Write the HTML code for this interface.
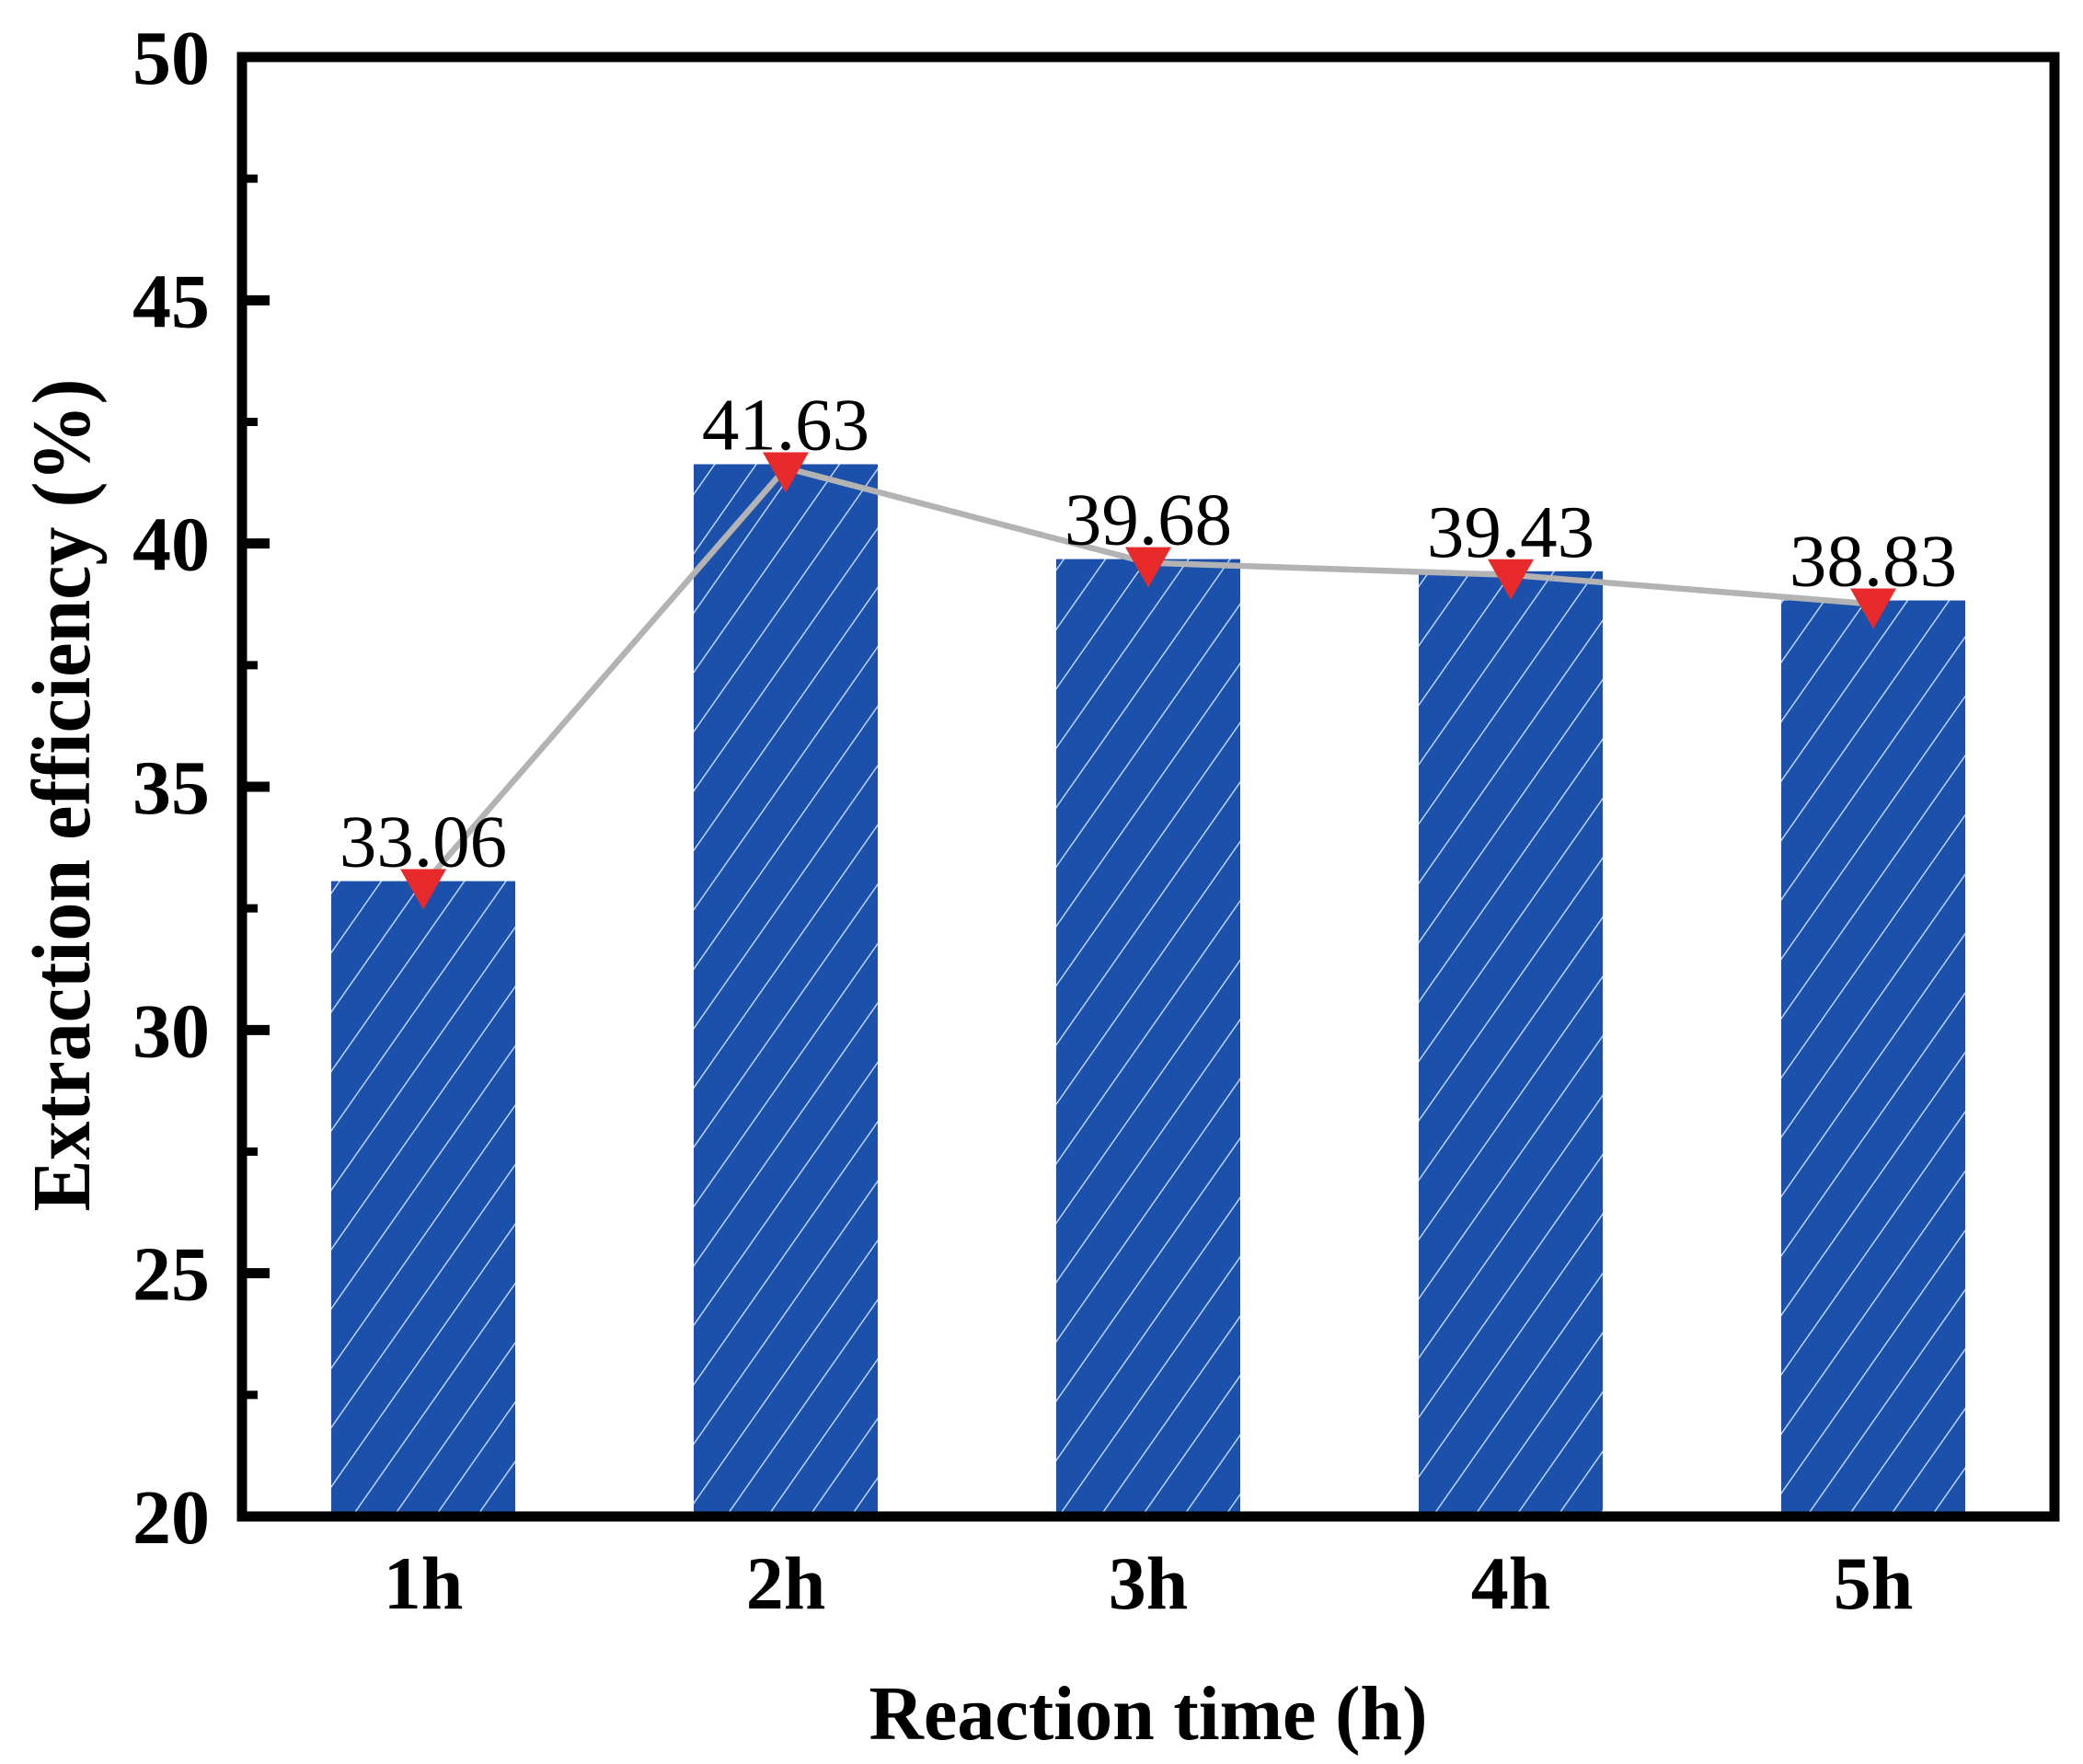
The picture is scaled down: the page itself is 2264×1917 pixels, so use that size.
<!DOCTYPE html>
<html><head><meta charset="utf-8"><style>
html,body{margin:0;padding:0;background:#fff;}
svg{display:block;}
text{font-family:"Liberation Serif","Times New Roman",serif;}
</style></head><body>
<svg id="chart" width="2264" height="1917" viewBox="0 0 2264 1917" xmlns="http://www.w3.org/2000/svg">
<defs>
<pattern id="hatch" patternUnits="userSpaceOnUse" width="37" height="37" patternTransform="rotate(35)">
<rect width="37" height="37" fill="#1b50ab"/>
<line x1="0" y1="0" x2="0" y2="37" stroke="#c8dcff" stroke-width="2.8"/>
</pattern>
</defs>
<g id="bars"></g>
<g id="line"></g>
<g id="labels"></g>
<rect x="263" y="62" width="1970" height="1586" fill="none" stroke="#000" stroke-width="11"/>
<g id="yticks"></g>
<g id="xticks"></g>
<text x="1248" y="1890" font-size="84" font-weight="bold" text-anchor="middle" textLength="607" lengthAdjust="spacingAndGlyphs">Reaction time (h)</text>
<text transform="translate(97,864) rotate(-90)" x="0" y="0" font-size="90" font-weight="bold" text-anchor="middle" textLength="905" lengthAdjust="spacingAndGlyphs">Extraction efficiency (%)</text>
</svg>
<script>
const categories = ["1h","2h","3h","4h","5h"];
const values = [33.06, 41.63, 39.68, 39.43, 38.83];
const valueLabels = ["33.06","41.63","39.68","39.43","38.83"];
const yTicks = [20,25,30,35,40,45,50];
const yMinorTicks = [22.5,27.5,32.5,37.5,42.5,47.5];

const NS = "http://www.w3.org/2000/svg";
const X0 = 263, X1 = 2233, Y0 = 1648, Y1 = 62;
const yMin = 20, yMax = 50;
function yScale(v){ return Y0 - (v - yMin) / (yMax - yMin) * (Y0 - Y1); }
function xScale(i){ return X0 + (i + 0.5) / categories.length * (X1 - X0); }
const bw = 200;
function mk(tag, attrs){ const e = document.createElementNS(NS, tag); for (const k in attrs) e.setAttribute(k, attrs[k]); return e; }

const bars = document.getElementById('bars');
const lineG = document.getElementById('line');
const labels = document.getElementById('labels');
const pts = [];
values.forEach((v, i) => {
  const cx = xScale(i), top = yScale(v);
  const r = mk('rect', {x: cx - bw/2, y: top, width: bw, height: Y0 - top, fill: 'url(#hatch)'});
  
  
  bars.appendChild(r);
  pts.push(cx + ',' + (top + 4));
  const t = mk('text', {x: cx, y: top - 16, 'font-size': 81, 'text-anchor': 'middle'});
  t.textContent = valueLabels[i];
  
  
  labels.appendChild(t);
});
const pl = mk('polyline', {points: pts.join(' '), fill: 'none', stroke: '#b3b3b3', 'stroke-width': 6.5});


lineG.appendChild(pl);
values.forEach((v, i) => {
  const cx = xScale(i), p = yScale(v);
  const tri = mk('polygon', {points: (cx-25)+','+(p-13)+' '+(cx+25)+','+(p-13)+' '+cx+','+(p+31), fill: '#e82a2a'});
  
  
  lineG.appendChild(tri);
});

const yt = document.getElementById('yticks');
yTicks.forEach(v => {
  const y = yScale(v);
  const l = mk('line', {x1: X0, x2: X0 + 30, y1: y, y2: y, stroke: '#000', 'stroke-width': 11});
  
  
  yt.appendChild(l);
  const t = mk('text', {x: 228, y: y + 29, 'font-size': 84, 'font-weight': 'bold', 'text-anchor': 'end'});
  t.textContent = v;
  
  
  yt.appendChild(t);
});
yMinorTicks.forEach(v => {
  const y = yScale(v);
  const l = mk('line', {x1: X0, x2: X0 + 17, y1: y, y2: y, stroke: '#000', 'stroke-width': 9});
  
  
  yt.appendChild(l);
});
const xt = document.getElementById('xticks');
categories.forEach((c, i) => {
  const t = mk('text', {x: xScale(i), y: 1748, 'font-size': 82, 'font-weight': 'bold', 'text-anchor': 'middle'});
  t.textContent = c;
  
  
  xt.appendChild(t);
});
</script>
</body></html>
